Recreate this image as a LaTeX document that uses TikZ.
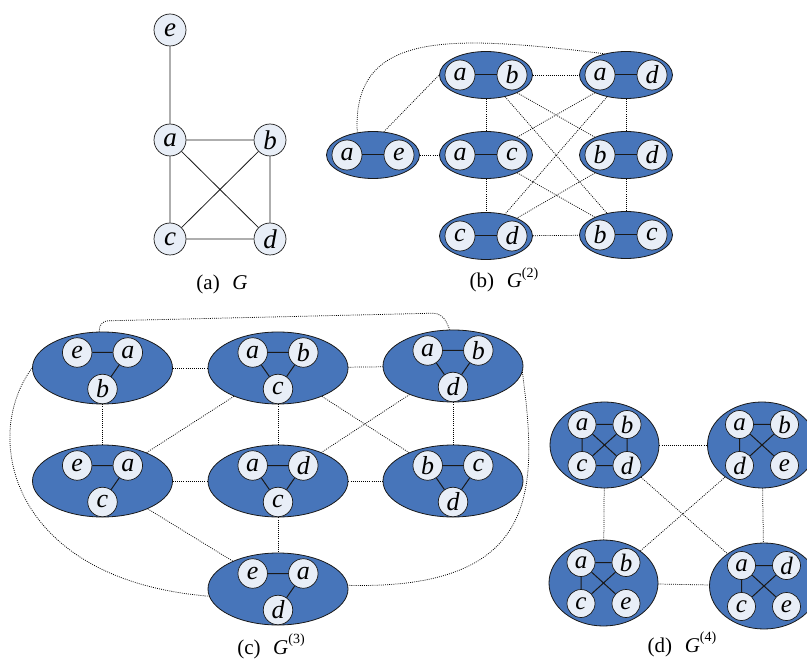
\documentclass[tikz,border=0pt]{standalone}
\usepackage{fontspec}
\setmainfont{Liberation Serif}
\usetikzlibrary{shapes.geometric}
\definecolor{gblue}{RGB}{71,117,186}
\definecolor{vfill}{RGB}{232,238,247}
\definecolor{lnc}{RGB}{25,25,25}
\newcommand\pairB[5]{%
  \node[grpB] (#1) at (#2,#3) {};
  \node[vB] (#1-1) at (#2-26,#3) {#4};
  \node[vB] (#1-2) at (#2+26,#3) {#5};
  \draw[inedge] (#1-1) -- (#1-2);}
\newcommand\triC[6]{%
  \node[grpC] (#1) at (#2,#3) {};
  \node[vC] (#1-1) at (#2-25.3,#3-15.5) {#4};
  \node[vC] (#1-2) at (#2+25.3,#3-15.5) {#5};
  \node[vC] (#1-3) at (#2,#3+21) {#6};}
\newcommand\quadD[7]{%
  \node[grpD] (#1) at (#2,#3) {};
  \node[vD] (#1-1) at (#2-22.5,#3-20.5) {#4};
  \node[vD] (#1-2) at (#2+22.5,#3-20.5) {#5};
  \node[vD] (#1-3) at (#2-22.5,#3+20.5) {#6};
  \node[vD] (#1-4) at (#2+22.5,#3+20.5) {#7};}
\newcommand\supx[1]{\raisebox{0.5em}{\fontsize{14}{14}\selectfont(#1)}}
\begin{document}
\begin{tikzpicture}[x=1pt,y=-1pt,
  vA/.style={circle,draw=lnc,fill=vfill,line width=0.7pt,inner sep=0pt,minimum size=32pt,font=\fontsize{27}{27}\selectfont\itshape},
  vB/.style={vA,minimum size=30pt,font=\fontsize{26}{26}\selectfont\itshape},
  vC/.style={vA,minimum size=29.5pt,font=\fontsize{26}{26}\selectfont\itshape},
  vD/.style={vA,minimum size=28pt,font=\fontsize{25}{25}\selectfont\itshape},
  grpB/.style={ellipse,draw=lnc,fill=gblue,line width=0.8pt,inner sep=0pt,minimum width=93pt,minimum height=47pt},
  grpC/.style={grpB,minimum width=140pt,minimum height=72pt},
  grpD/.style={grpB,minimum width=109pt,minimum height=86pt},
  gedge/.style={draw=lnc,line width=0.8pt},
  inedge/.style={draw=lnc,line width=1pt},
  conn/.style={draw=black,line width=0.75pt,dash pattern=on 0.9pt off 1.2pt},
  captxt/.style={font=\fontsize{21}{21}\selectfont,anchor=base}]
\useasboundingbox (0,0) rectangle (807,663);

% (a)
\node[vA] (e) at (170,30) {e};
\node[vA] (a) at (170,140) {a};
\node[vA] (b) at (270,140) {b};
\node[vA] (c) at (170,239) {c};
\node[vA] (d) at (270,239) {d};
\draw[gedge] (e)--(a) (a)--(b) (a)--(c) (a)--(d) (b)--(c) (b)--(d) (c)--(d);
\node[captxt] (capa) at (222,290) {(a)\hspace{0.6em}\textit{G}};

% (b)
\pairB{Bab}{486}{75}{a}{b}
\pairB{Bad}{626}{75}{a}{d}
\pairB{Bae}{373}{155}{a}{e}
\pairB{Bac}{486}{155}{a}{c}
\pairB{Bbd}{626}{155}{b}{d}
\pairB{Bcd}{486}{236}{c}{d}
\pairB{Bbc}{626}{235}{b}{c}
\draw[conn] (Bae.65)--(Bab.west);
\draw[conn] (Bae)--(Bac);
\draw[conn] (Bab)--(Bad);
\draw[conn] (Bab)--(Bac);
\draw[conn] (Bab)--(Bbd);
\draw[conn] (Bab)--(Bbc);
\draw[conn] (Bad)--(Bac);
\draw[conn] (Bad)--(Bcd);
\draw[conn] (Bad)--(Bbd);
\draw[conn] (Bac)--(Bcd);
\draw[conn] (Bac)--(Bbc);
\draw[conn] (Bbd)--(Bcd);
\draw[conn] (Bbd)--(Bbc);
\draw[conn] (Bcd)--(Bbc);
\draw[conn] (Bae.125) .. controls (352,30) and (450,35) .. (Bad.135);
\node[captxt] (capb) at (504,288) {(b)\hspace{0.6em}\textit{G}\supx{2}};

% (c)
\triC{Ceab}{102.5}{368}{e}{a}{b}
\triC{Cabc}{278}{368}{a}{b}{c}
\triC{Cabd}{453}{366}{a}{b}{d}
\triC{Ceac}{102.5}{481}{e}{a}{c}
\triC{Cadc}{278}{481}{a}{d}{c}
\triC{Cbcd}{453}{481}{b}{c}{d}
\triC{Cead}{278}{589}{e}{a}{d}
\draw[inedge] (Ceab-1)--(Ceab-2) (Ceab-2)--(Ceab-3);
\draw[inedge] (Ceac-1)--(Ceac-2) (Ceac-2)--(Ceac-3);
\draw[inedge] (Cead-1)--(Cead-2) (Cead-2)--(Cead-3);
\draw[inedge] (Cabc-1)--(Cabc-2) (Cabc-1)--(Cabc-3) (Cabc-2)--(Cabc-3);
\draw[inedge] (Cabd-1)--(Cabd-2) (Cabd-1)--(Cabd-3) (Cabd-2)--(Cabd-3);
\draw[inedge] (Cadc-1)--(Cadc-2) (Cadc-1)--(Cadc-3) (Cadc-2)--(Cadc-3);
\draw[inedge] (Cbcd-1)--(Cbcd-2) (Cbcd-1)--(Cbcd-3) (Cbcd-2)--(Cbcd-3);
\draw[conn] (Ceab)--(Cabc);
\draw[conn] (Cabc)--(Cabd);
\draw[conn] (Ceab)--(Ceac);
\draw[conn] (Cabc)--(Cadc);
\draw[conn] (Cabd)--(Cbcd);
\draw[conn] (Ceac)--(Cadc);
\draw[conn] (Cadc)--(Cbcd);
\draw[conn] (Cadc)--(Cead);
\draw[conn] (Cabc)--(Ceac);
\draw[conn] (Cabc)--(Cbcd);
\draw[conn] (Cabd)--(Cadc);
\draw[conn] (Ceac)--(Cead);
\draw[conn,rounded corners=9pt] (Ceab.95) -- (99,321) -- (442,313) -- (Cabd.95);
\draw[conn] (Ceab.west) .. controls (-20,438) and (12,580) .. (Cead.186);
\draw[conn] (Cabd.-5) .. controls (538,490) and (540,590) .. (Cead.3);
\node[captxt] (capc) at (271,654) {(c)\hspace{0.6em}\textit{G}\supx{3}};

% (d)
\quadD{Dabcd}{604.5}{445}{a}{b}{c}{d}
\quadD{Dabde}{762}{445}{a}{b}{d}{e}
\quadD{Dabce}{603.5}{583}{a}{b}{c}{e}
\quadD{Dacde}{764}{586}{a}{d}{c}{e}
\draw[inedge] (Dabcd-1)--(Dabcd-2) (Dabcd-1)--(Dabcd-3) (Dabcd-2)--(Dabcd-4) (Dabcd-3)--(Dabcd-4) (Dabcd-1)--(Dabcd-4) (Dabcd-2)--(Dabcd-3);
\draw[inedge] (Dabde-1)--(Dabde-2) (Dabde-1)--(Dabde-3) (Dabde-1)--(Dabde-4) (Dabde-2)--(Dabde-3);
\draw[inedge] (Dabce-1)--(Dabce-2) (Dabce-1)--(Dabce-3) (Dabce-1)--(Dabce-4) (Dabce-2)--(Dabce-3);
\draw[inedge] (Dacde-1)--(Dacde-2) (Dacde-1)--(Dacde-3) (Dacde-1)--(Dacde-4) (Dacde-2)--(Dacde-3);
\draw[conn] (Dabcd)--(Dabde);
\draw[conn] (Dabcd)--(Dabce);
\draw[conn] (Dabde)--(Dacde);
\draw[conn] (Dabce)--(Dacde);
\draw[conn] (Dabcd)--(Dacde);
\draw[conn] (Dabde)--(Dabce);
\node[captxt] (capd) at (682,652) {(d)\hspace{0.6em}\textit{G}\supx{4}};
\end{tikzpicture}
\end{document}
